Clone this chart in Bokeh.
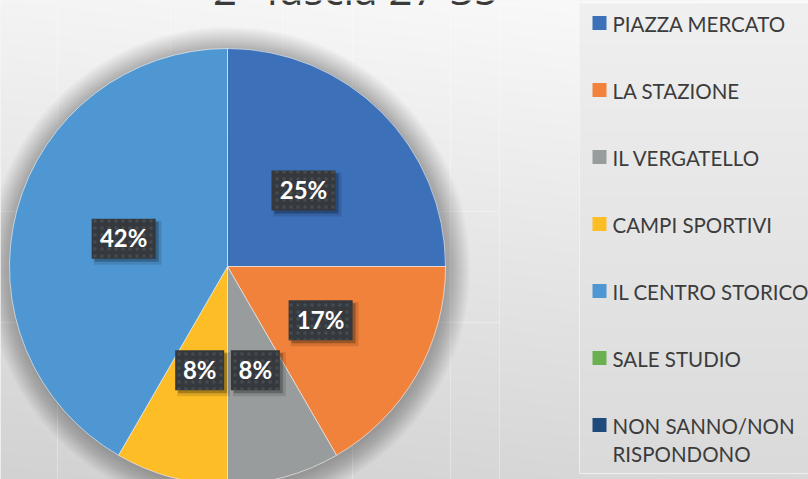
import textwrap
import numpy as np
from bokeh.plotting import figure
from bokeh.models import Range1d, ColumnDataSource
from bokeh.core.properties import value
from bokeh.embed import file_html
from bokeh.resources import INLINE

# ---------------- data ----------------
title_text = "2° fascia 27-35"
categories = ["PIAZZA MERCATO", "LA STAZIONE", "IL VERGATELLO", "CAMPI SPORTIVI",
              "IL CENTRO STORICO", "SALE STUDIO", "NON SANNO/NON RISPONDONO"]
counts = [3, 2, 1, 1, 5, 0, 0]
colors = ["#3c70b9", "#f1823b", "#999c9d", "#fdbd27", "#4f97d2", "#6aaf50", "#1f4b7c"]

# ---------------- layout ----------------
W, H = 808, 479
def Y(ry):               # reference pixel row -> data y
    return H - ry

p = figure(width=W, height=H, x_range=Range1d(0, W), y_range=Range1d(0, H),
           output_backend="svg", toolbar_location=None,
           x_axis_location=None, y_axis_location=None, min_border=0)
p.grid.visible = False
p.outline_line_color = None
p.background_fill_color = "#eeeeee"
p.border_fill_color = "#ffffff"

# background gradient (page + legend panel)
ry = np.arange(0, H)[::-1].astype(float)  # bottom row first
rx = np.arange(0, W).astype(float)
RX, RY = np.meshgrid(rx, ry)
t = RY / 479.0
u = RX / 808.0
g = 251 - 34 * t - 7 * (1 - u)
panel = (RX >= 579) & (RY >= 3) & (RY <= 473)
g = np.where(panel, 240 - 22 * t, g)
g = np.clip(g, 0, 255).astype(np.uint32)
img = (255 << 24) | (g << 16) | (g << 8) | g
p.image_rgba(image=[img.astype(np.uint32)], x=0, y=0, dw=W, dh=H)

# faint background grid lines
vx = [57, 170, 282, 352, 450, 499]
p.segment(x0=vx, y0=[Y(0)] * len(vx), x1=vx, y1=[Y(479)] * len(vx),
          line_color="white", line_alpha=0.3, line_width=1)
p.segment(x0=[0, 0], y0=[Y(211), Y(322)], x1=[499, 499], y1=[Y(211), Y(322)],
          line_color="white", line_alpha=0.3, line_width=1)

# legend panel edge
p.quad(left=579, right=812, top=Y(3), bottom=Y(473), fill_color=None,
       line_color="#f4f4f4", line_alpha=0.8, line_width=1)

# title (mostly cut off at the top, as in the reference)
p.text(x=[355], y=[Y(16)], text=[title_text], text_font=value("Open Sans"),
       text_font_size="42px", text_color="#3a3a3a", text_align="center",
       text_baseline="bottom")

# ---------------- pie ----------------
cx, cy, R = 227, Y(266), 218
total = float(sum(counts))

# soft shadow
for k in range(1, 25):
    p.circle(x=[cx + 1], y=[cy - 2], radius=R + k, fill_color="black",
             fill_alpha=0.011, line_color=None)

starts, ends, cols, mids, labels = [], [], [], [], []
cum = 0.0
for c, col in zip(counts, colors):
    if c <= 0:
        continue
    a0 = np.pi / 2 - 2 * np.pi * cum / total
    cum += c
    a1 = np.pi / 2 - 2 * np.pi * cum / total
    starts.append(a0); ends.append(a1); cols.append(col)
    mids.append((a0 + a1) / 2)
    labels.append(f"{round(c / total * 100)}%")

src = ColumnDataSource(dict(start=starts, end=ends, color=cols))
p.wedge(x=cx, y=cy, radius=R, start_angle="start", end_angle="end",
        direction="clock", fill_color="color", line_color="white",
        line_alpha=0.55, line_width=1, source=src)

# data labels
lr = 107.5
lx = [cx + lr * np.cos(m) for m in mids]
ly = [cy + lr * np.sin(m) for m in mids]
bw = [19 + 15 * len(s) for s in labels]
p.rect(x=[x + 4 for x in lx], y=[y - 4 for y in ly], width=[w + 4 for w in bw],
       height=44, fill_color="black", fill_alpha=0.12, line_color=None)
p.rect(x=[x + 3 for x in lx], y=[y - 3 for y in ly], width=bw, height=40,
       fill_color="black", fill_alpha=0.25, line_color=None)
p.rect(x=lx, y=ly, width=bw, height=40, fill_color="#35393d", line_color=None,
       hatch_pattern="dot", hatch_color="#474b4f", hatch_scale=7, hatch_weight=1.5)
p.text(x=lx, y=[y + 1 for y in ly], text=labels, text_font=value("Lato"),
       text_font_style="bold", text_font_size="24px", text_color="white",
       text_align="center", text_baseline="middle")

# ---------------- legend ----------------
leg_y0, leg_dy, line_h = 22.5, 67, 28
sq_x, sq_y, tx, ty, tt = [], [], [], [], []
for i, (cat, col) in enumerate(zip(categories, colors)):
    ry_i = leg_y0 + leg_dy * i
    sq_x.append(599); sq_y.append(Y(ry_i))
    for j, line in enumerate(textwrap.wrap(cat, 17)):
        tx.append(612); ty.append(Y(ry_i + j * line_h)); tt.append(line)
p.rect(x=sq_x, y=sq_y, width=14, height=14, fill_color=colors, line_color=None)
p.text(x=tx, y=[y - 1 for y in ty], text=tt, text_font=value("Lato"),
       text_font_size="20.5px", text_color="#3c3c3c", text_align="left",
       text_baseline="middle")

open("out.html", "w").write(file_html(p, INLINE))
